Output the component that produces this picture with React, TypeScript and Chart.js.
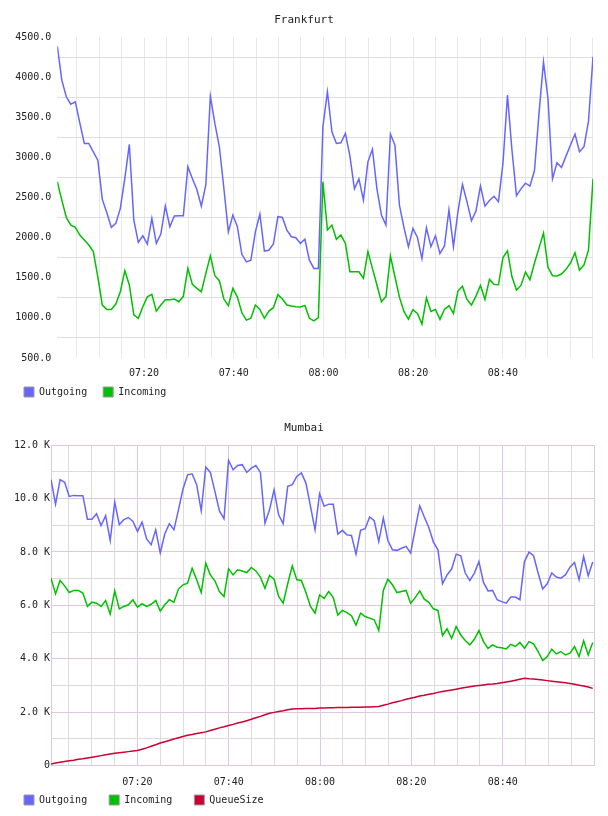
import React, { useEffect, useRef } from 'react';
import { Chart, registerables } from 'chart.js';

Chart.register(...registerables);

// ---------- data ----------
// Sample times, in minutes after 07:00 (one sample per minute)
const FRANKFURT_START_MIN = 0.67;
const FRANKFURT_STEP_MIN = 1.0036;
const MUMBAI_START_MIN = 1.08;
const MUMBAI_STEP_MIN = 0.997;

// x labels (minutes after 07:00)
const TIME_LABEL_MINUTES = [20, 40, 60, 80, 100];

const FRANKFURT_OUTGOING = [
  4388, 3964, 3757, 3665, 3694, 3432, 3175, 3175, 3070, 2967,
  2478, 2311, 2129, 2179, 2366, 2739, 3163, 2220, 1942, 2024,
  1921, 2241, 1929, 2046, 2395, 2137, 2270, 2275, 2275, 2884,
  2739, 2601, 2393, 2660, 3765, 3425, 3134, 2617, 2073, 2282,
  2137, 1793, 1699, 1719, 2073, 2295, 1834, 1843, 1921, 2262,
  2253, 2095, 2012, 2000, 1929, 1980, 1719, 1617, 1617, 3383,
  3820, 3320, 3175, 3183, 3300, 3017, 2609, 2734, 2469, 2946,
  3102, 2609, 2282, 2157, 3292, 3155, 2407, 2129, 1888, 2116,
  2002, 1740, 2124, 1888, 2024, 1801, 1897, 2346, 1888, 2324,
  2665, 2449, 2211, 2333, 2644, 2393, 2463, 2517, 2449, 2926,
  3777, 3090, 2525, 2609, 2680, 2644, 2837, 3547, 4192, 3735,
  2734, 2934, 2876, 3017, 3155, 3292, 3072, 3134, 3453, 4255,
];

const FRANKFURT_INCOMING = [
  2697, 2469, 2253, 2157, 2129, 2033, 1971, 1909, 1826, 1513,
  1160, 1106, 1106, 1173, 1327, 1589, 1411, 1037, 995, 1140,
  1264, 1294, 1085, 1160, 1227, 1227, 1235, 1202, 1269, 1617,
  1419, 1369, 1327, 1556, 1776, 1526, 1464, 1235, 1152, 1369,
  1259, 1064, 972, 995, 1160, 1106, 995, 1085, 1127, 1289,
  1235, 1160, 1148, 1140, 1135, 1156, 995, 963, 1004, 2697,
  2095, 2157, 1980, 2033, 1929, 1576, 1576, 1576, 1494, 1826,
  1617, 1411, 1203, 1264, 1772, 1513, 1259, 1081, 985, 1102,
  1056, 923, 1251, 1081, 1106, 981, 1106, 1152, 1056, 1334,
  1396, 1231, 1160, 1272, 1405, 1231, 1480, 1418, 1413, 1753,
  1836, 1513, 1347, 1405, 1572, 1476, 1684, 1870, 2057, 1630,
  1526, 1522, 1547, 1605, 1684, 1812, 1596, 1660, 1847, 2734,
];

const MUMBAI_OUTGOING = [
  10710, 9790, 10710, 10610, 10080, 10120, 10110, 10110, 9230, 9230,
  9430, 8990, 9360, 8430, 9870, 9020, 9210, 9290, 9140, 8770,
  9120, 8490, 8270, 8830, 7960, 8680, 9060, 8830, 9580, 10360,
  10890, 10930, 10520, 9540, 11180, 10980, 10270, 9540, 9240, 11430,
  11080, 11240, 11270, 10980, 11140, 11240, 10980, 9080, 9580, 10330,
  9390, 9060, 10460, 10520, 10830, 10960, 10580, 9710, 8830, 10180,
  9710, 9790, 9790, 8670, 8810, 8640, 8620, 7920, 8810, 8870,
  9310, 9170, 8390, 9270, 8430, 8080, 8060, 8140, 8210, 7960,
  8860, 9730, 9310, 8920, 8370, 8080, 6810, 7140, 7360, 7920,
  7860, 7210, 6930, 7210, 7640, 6860, 6540, 6560, 6210, 6140,
  6080, 6310, 6310, 6210, 7640, 7990, 7860, 7210, 6610, 6810,
  7210, 7060, 7020, 7140, 7430, 7610, 6960, 7830, 7110, 7620,
];

const MUMBAI_INCOMING = [
  7020, 6430, 6930, 6730, 6480, 6560, 6560, 6460, 5960, 6120,
  6080, 5960, 6180, 5670, 6540, 5870, 5960, 6020, 6210, 5930,
  6060, 5960, 6040, 6180, 5790, 6020, 6210, 6120, 6610, 6770,
  6830, 7390, 6960, 6480, 7580, 7140, 6920, 6520, 6330, 7370,
  7140, 7330, 7290, 7230, 7420, 7290, 7060, 6640, 7120, 6980,
  6330, 6080, 6810, 7480, 6960, 6930, 6480, 5960, 5710, 6390,
  6260, 6520, 6290, 5640, 5810, 5730, 5610, 5260, 5710, 5580,
  5520, 5460, 5060, 6560, 6980, 6770, 6480, 6520, 6560, 6080,
  6290, 6540, 6230, 6110, 5870, 5810, 4870, 5120, 4760, 5210,
  4890, 4680, 4520, 4730, 5060, 4640, 4390, 4520, 4430, 4410,
  4370, 4540, 4460, 4610, 4390, 4640, 4560, 4270, 3930, 4080,
  4360, 4180, 4270, 4140, 4210, 4460, 4080, 4670, 4140, 4610,
];

const MUMBAI_QUEUE = [
  60, 90, 120, 150, 180, 200, 230, 250, 280, 310,
  340, 370, 400, 430, 460, 480, 500, 520, 540, 560,
  610, 660, 720, 780, 840, 890, 940, 990, 1040, 1090,
  1130, 1160, 1200, 1230, 1260, 1310, 1360, 1410, 1450, 1500,
  1540, 1590, 1630, 1680, 1730, 1790, 1840, 1900, 1960, 1990,
  2020, 2050, 2090, 2120, 2130, 2130, 2140, 2140, 2140, 2150,
  2150, 2160, 2160, 2170, 2170, 2170, 2180, 2180, 2180, 2190,
  2190, 2200, 2210, 2260, 2300, 2350, 2390, 2430, 2480, 2520,
  2560, 2600, 2630, 2670, 2700, 2740, 2770, 2800, 2830, 2860,
  2890, 2920, 2950, 2980, 3000, 3020, 3040, 3050, 3070, 3100,
  3130, 3160, 3190, 3230, 3270, 3250, 3240, 3220, 3200, 3180,
  3160, 3140, 3120, 3100, 3070, 3040, 3010, 2980, 2940, 2890,
];

// ---------- styles ----------
const MONO = '"DejaVu Sans Mono", "Liberation Mono", monospace';
const TEXT = '#222222';
const BLUE = '#6666ff';
const GREEN = '#00c000';
const RED = '#cc0033';
const F_GRID_H = '#dedede';
const F_GRID_V = '#e8e8e8';
const M_MAJOR = '#dfc8df';
const M_MINOR = '#dedbde';

function fmtTime(m: number): string {
  const h = 7 + Math.floor(m / 60);
  const mm = Math.round(m % 60);
  return String(h).padStart(2, '0') + ':' + String(mm).padStart(2, '0');
}

function series(values: number[], start: number, step: number) {
  return values.map((v, i) => ({ x: start + i * step, y: v }));
}

function ds(label: string, color: string, data: { x: number; y: number }[]) {
  return {
    label,
    data,
    borderColor: color,
    backgroundColor: color,
    borderWidth: 1.5,
    pointRadius: 0,
    pointHoverRadius: 0,
    tension: 0,
    fill: false,
  };
}

function legendLabels(chart: any) {
  const base = (Chart.defaults.plugins.legend.labels as any).generateLabels(chart);
  return base.map((l: any) => ({ ...l, strokeStyle: '#999999', lineWidth: 1 }));
}

function xTickLabel(v: any) {
  const n = Number(v);
  return TIME_LABEL_MINUTES.some((m) => Math.abs(m - n) < 1e-6) ? fmtTime(n) : '';
}

// Places the legend row and centres the title on the full canvas width.
const layoutTweak = {
  id: 'layoutTweak',
  afterLayout(chart: any, _args: any, opts: any) {
    const lg = chart.legend;
    if (lg && opts) {
      const P = lg.options.labels.padding;
      const w = lg.width;
      lg.left = opts.legendBoxLeft - P;
      lg.right = lg.left + w;
      lg.top = opts.legendBoxTop - P;
      lg.bottom = chart.height;
      lg.height = lg.bottom - lg.top;
    }
    const tb = chart.titleBlock;
    if (tb) {
      tb.left = 0;
      tb.right = chart.width;
      tb.width = chart.width;
    }
  },
};

function frankfurtConfig(): any {
  const outData = series(FRANKFURT_OUTGOING, FRANKFURT_START_MIN, FRANKFURT_STEP_MIN);
  const inData = series(FRANKFURT_INCOMING, FRANKFURT_START_MIN, FRANKFURT_STEP_MIN);
  const xMax = FRANKFURT_START_MIN + (FRANKFURT_OUTGOING.length - 1) * FRANKFURT_STEP_MIN;
  return {
    type: 'line',
    data: { datasets: [ds('Outgoing', BLUE, outData), ds('Incoming', GREEN, inData)] },
    plugins: [layoutTweak],
    options: {
      animation: false,
      responsive: false,
      events: [],
      layout: { padding: { left: 0, right: 15, top: 0, bottom: 0 } },
      plugins: {
        layoutTweak: { legendBoxLeft: 24, legendBoxTop: 387 },
        title: {
          display: true,
          text: 'Frankfurt',
          color: TEXT,
          font: { family: MONO, size: 11, weight: 'normal' },
          padding: { top: 14, bottom: 10 },
        },
        legend: {
          position: 'bottom',
          align: 'start',
          maxHeight: 28,
          labels: {
            boxWidth: 10,
            boxHeight: 10,
            padding: 16,
            color: TEXT,
            font: { family: MONO, size: 10 },
            generateLabels: legendLabels,
          },
        },
        tooltip: { enabled: false },
      },
      scales: {
        x: {
          type: 'linear',
          min: FRANKFURT_START_MIN,
          max: xMax,
          border: { display: false },
          grid: { color: F_GRID_V, drawTicks: false, lineWidth: 1 },
          ticks: {
            stepSize: 5,
            autoSkip: false,
            includeBounds: false,
            maxRotation: 0,
            minRotation: 0,
            padding: 9,
            color: TEXT,
            font: { family: MONO, size: 10 },
            callback: xTickLabel,
          },
          afterFit: (s: any) => {
            s.height = 21;
          },
        },
        y: {
          type: 'linear',
          min: 500,
          max: 4500,
          border: { display: false },
          grid: {
            drawTicks: false,
            color: (c: any) => (c.tick && c.tick.value % 500 === 0 ? 'rgba(0,0,0,0)' : F_GRID_H),
          },
          ticks: {
            stepSize: 250,
            autoSkip: false,
            padding: 6,
            color: TEXT,
            font: { family: MONO, size: 10 },
            callback: (v: any) => (Number(v) % 500 === 0 ? Number(v).toFixed(1) : ''),
          },
          afterFit: (s: any) => {
            s.width = 57.3;
          },
        },
      },
    },
  };
}

function mumbaiConfig(): any {
  const outData = series(MUMBAI_OUTGOING, MUMBAI_START_MIN, MUMBAI_STEP_MIN);
  const inData = series(MUMBAI_INCOMING, MUMBAI_START_MIN, MUMBAI_STEP_MIN);
  const qData = series(MUMBAI_QUEUE, MUMBAI_START_MIN, MUMBAI_STEP_MIN);
  return {
    type: 'line',
    data: {
      datasets: [ds('Outgoing', BLUE, outData), ds('Incoming', GREEN, inData), ds('QueueSize', RED, qData)],
    },
    plugins: [layoutTweak],
    options: {
      animation: false,
      responsive: false,
      events: [],
      layout: { padding: { left: 0, right: 14, top: 0, bottom: 0 } },
      plugins: {
        layoutTweak: { legendBoxLeft: 24, legendBoxTop: 387 },
        title: {
          display: true,
          text: 'Mumbai',
          color: TEXT,
          font: { family: MONO, size: 11, weight: 'normal' },
          padding: { top: 14, bottom: 10 },
        },
        legend: {
          position: 'bottom',
          align: 'start',
          maxHeight: 27.5,
          labels: {
            boxWidth: 10,
            boxHeight: 10,
            padding: 22,
            color: TEXT,
            font: { family: MONO, size: 10 },
            generateLabels: legendLabels,
          },
        },
        tooltip: { enabled: false },
      },
      scales: {
        x: {
          type: 'linear',
          min: MUMBAI_START_MIN,
          max: 120,
          border: { display: false },
          grid: {
            drawTicks: false,
            color: (c: any) => (c.tick && Math.round(c.tick.value) % 20 === 0 ? M_MAJOR : M_MINOR),
          },
          ticks: {
            stepSize: 5,
            autoSkip: false,
            includeBounds: false,
            maxRotation: 0,
            minRotation: 0,
            padding: 11,
            color: TEXT,
            font: { family: MONO, size: 10 },
            callback: xTickLabel,
          },
          afterFit: (s: any) => {
            s.height = 23;
          },
        },
        y: {
          type: 'linear',
          min: 0,
          max: 12000,
          border: { display: true, color: M_MAJOR, width: 1 },
          grid: {
            drawTicks: false,
            color: (c: any) => (c.tick && c.tick.value % 2000 === 0 ? M_MAJOR : M_MINOR),
          },
          ticks: {
            stepSize: 1000,
            autoSkip: false,
            padding: 1,
            color: TEXT,
            font: { family: MONO, size: 10 },
            callback: (v: any) => {
              const n = Number(v);
              if (n % 2000 !== 0) return '';
              return n === 0 ? '0' : (n / 1000).toFixed(1) + ' K';
            },
          },
          afterFit: (s: any) => {
            s.width = 51;
          },
        },
      },
    },
  };
}

function ChartCanvas({ make, top, height }: { make: () => any; top: number; height: number }) {
  const ref = useRef<HTMLCanvasElement>(null);
  useEffect(() => {
    if (!ref.current) return;
    const chart = new Chart(ref.current, make());
    return () => chart.destroy();
  }, [make]);
  return (
    <canvas
      ref={ref}
      width={608}
      height={height}
      style={{ position: 'absolute', left: 0, top, width: 608, height, display: 'block' }}
    />
  );
}

export default function App() {
  return (
    <div style={{ position: 'absolute', left: 0, top: 0, width: 608, height: 816, background: '#ffffff' }}>
      <ChartCanvas make={frankfurtConfig} top={0} height={407} />
      <ChartCanvas make={mumbaiConfig} top={408} height={408} />
    </div>
  );
}
